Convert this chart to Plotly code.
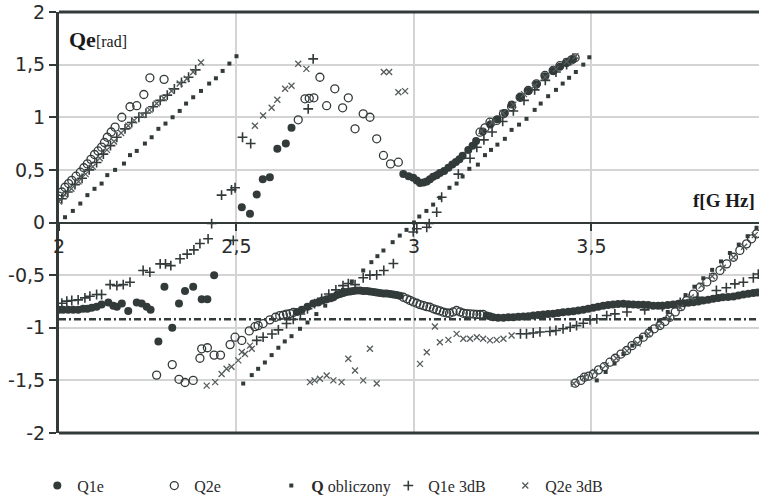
import plotly.graph_objects as go

# ---------------- data ----------------
# Q1e (filled circles)
q1e_f = [2.000, 2.012, 2.026, 2.040, 2.054, 2.068, 2.080, 2.092, 2.106, 2.120, 2.139, 2.153, 2.163, 2.177,
         2.195, 2.219, 2.233, 2.247, 2.258, 2.280, 2.297, 2.319, 2.338, 2.355, 2.378, 2.402, 2.418, 2.437,
         2.515, 2.538, 2.557, 2.574, 2.594, 2.615, 2.639, 2.655,
         2.670, 2.684, 2.700, 2.716, 2.730, 2.742, 2.754, 2.765, 2.773, 2.783, 2.792, 2.801, 2.810, 2.820,
         2.829, 2.838, 2.848, 2.857, 2.867, 2.876, 2.886, 2.895, 2.904, 2.914, 2.923, 2.933, 2.942, 2.951, 2.960,
         2.970, 2.985, 2.998, 3.008, 3.017, 3.027, 3.036, 3.045, 3.054, 3.064, 3.073, 3.085, 3.097, 3.108,
         3.118, 3.128, 3.137, 3.153, 3.165, 3.175, 3.194, 3.215, 3.235, 3.256, 3.275, 3.300, 3.322, 3.345,
         3.369, 3.392, 3.411, 3.430, 3.448,
         3.205, 3.214, 3.223, 3.237, 3.252, 3.266, 3.280, 3.294, 3.308, 3.322, 3.336, 3.350, 3.364, 3.378,
         3.392, 3.406, 3.420, 3.435, 3.449, 3.463, 3.477, 3.491, 3.505, 3.519, 3.533, 3.547, 3.561, 3.575,
         3.590, 3.604, 3.618, 3.632, 3.646, 3.660, 3.674, 3.688, 3.700, 3.715, 3.730, 3.745, 3.759, 3.773,
         3.787, 3.801, 3.815, 3.829, 3.843, 3.857, 3.870, 3.885, 3.900, 3.914, 3.928, 3.942, 3.956, 3.968]
q1e_q = [-0.83, -0.83, -0.83, -0.83, -0.83, -0.82, -0.82, -0.81, -0.80, -0.78, -0.76, -0.79, -0.80, -0.77,
         -0.84, -0.76, -0.77, -0.80, -0.83, -1.13, -0.61, -1.00, -0.77, -0.65, -0.61, -0.73, -0.73, -0.50,
         0.145, 0.083, 0.266, 0.41, 0.43, 0.70, 0.75, 0.90,
         -0.85, -0.83, -0.80, -0.77, -0.76, -0.74, -0.73, -0.72, -0.71, -0.69, -0.68, -0.67, -0.66, -0.655,
         -0.65, -0.645, -0.645, -0.65, -0.65, -0.655, -0.66, -0.665, -0.67, -0.675, -0.675, -0.68, -0.685, -0.69, -0.695,
         0.46, 0.44, 0.425, 0.40, 0.375, 0.38, 0.39, 0.41, 0.435, 0.45, 0.47, 0.49, 0.52, 0.55,
         0.575, 0.60, 0.635, 0.69, 0.73, 0.775, 0.865, 0.93, 0.98, 1.04, 1.12, 1.19, 1.25, 1.31,
         1.39, 1.44, 1.48, 1.52, 1.55,
         -0.884, -0.89, -0.90, -0.905, -0.906, -0.90, -0.90, -0.895, -0.893, -0.89, -0.884, -0.88, -0.874, -0.87,
         -0.868, -0.86, -0.852, -0.848, -0.843, -0.835, -0.83, -0.82, -0.81, -0.80, -0.79, -0.785, -0.78, -0.775,
         -0.773, -0.776, -0.78, -0.781, -0.782, -0.785, -0.79, -0.79, -0.79, -0.785, -0.78, -0.773, -0.767, -0.762,
         -0.757, -0.75, -0.741, -0.733, -0.725, -0.718, -0.71, -0.707, -0.703, -0.693, -0.684, -0.677, -0.671, -0.665]

# Q2e (open circles)
q2e_f = [2.000, 2.008, 2.017, 2.027, 2.036, 2.048, 2.060, 2.070, 2.080, 2.090, 2.100, 2.110, 2.120, 2.128,
         2.136, 2.147, 2.158, 2.177, 2.200, 2.219, 2.239, 2.256, 2.296,
         2.275, 2.319, 2.338, 2.355, 2.378, 2.397, 2.402, 2.418, 2.437, 2.455, 2.482, 2.496, 2.515, 2.536,
         2.552, 2.561, 2.575, 2.594, 2.610, 2.622, 2.632, 2.641, 2.651, 2.660,
         2.674, 2.693, 2.705, 2.718, 2.735, 2.754, 2.777, 2.799, 2.815, 2.834, 2.857, 2.876, 2.895, 2.914,
         2.934, 2.956,
         2.970, 2.980, 2.989, 2.998, 3.008, 3.017, 3.027, 3.036, 3.045, 3.055, 3.064, 3.073, 3.083, 3.092,
         3.100, 3.110, 3.120, 3.130, 3.139, 3.148, 3.158, 3.168, 3.177, 3.186, 3.195,
         3.186, 3.200, 3.214, 3.233, 3.252, 3.275, 3.299, 3.322, 3.345, 3.369, 3.392, 3.411, 3.430, 3.444, 3.454,
         3.454, 3.470, 3.480, 3.492, 3.505, 3.520, 3.536, 3.552, 3.567, 3.583, 3.599, 3.614, 3.630, 3.646,
         3.662, 3.677, 3.693, 3.707, 3.721, 3.736, 3.752, 3.768, 3.787, 3.806, 3.825, 3.843, 3.862, 3.881,
         3.900, 3.918, 3.937, 3.951, 3.965]
q2e_q = [0.25, 0.29, 0.335, 0.37, 0.40, 0.44, 0.478, 0.52, 0.557, 0.60, 0.646, 0.68, 0.716, 0.76,
         0.81, 0.86, 0.906, 1.00, 1.10, 1.11, 1.216, 1.375, 1.36,
         -1.45, -1.35, -1.49, -1.52, -1.50, -1.29, -1.20, -1.19, -1.26, -1.26, -1.16, -1.09, -1.12, -1.03,
         -0.99, -0.98, -0.96, -0.925, -0.90, -0.885, -0.88, -0.87, -0.865, -0.855,
         0.976, 1.175, 1.18, 1.185, 1.38, 1.11, 1.27, 1.09, 1.185, 0.89, 1.033, 1.00, 0.795, 0.637,
         0.557, 0.573,
         -0.71, -0.725, -0.74, -0.755, -0.767, -0.78, -0.79, -0.80, -0.805, -0.82, -0.83, -0.84, -0.852, -0.86,
         -0.862, -0.85, -0.836, -0.85, -0.862, -0.865, -0.868, -0.87, -0.874, -0.874, -0.874,
         0.858, 0.90, 0.953, 0.97, 1.033, 1.10, 1.19, 1.254, 1.318, 1.397, 1.444, 1.49, 1.52, 1.545, 1.565,
         -1.527, -1.50, -1.47, -1.46, -1.44, -1.40, -1.37, -1.327, -1.29, -1.25, -1.216, -1.17, -1.13, -1.09,
         -1.05, -1.01, -0.979, -0.94, -0.90, -0.85, -0.80, -0.741, -0.68, -0.615, -0.565, -0.52, -0.455, -0.393,
         -0.33, -0.265, -0.203, -0.155, -0.107]

# Q obliczony (calculated phase, small squares)
qobl_f = [2.017, 2.039, 2.060, 2.080, 2.100, 2.120, 2.136, 2.158, 2.183, 2.200, 2.219, 2.242, 2.261, 2.280,
          2.300, 2.320, 2.340, 2.358, 2.378, 2.400, 2.423, 2.442, 2.461, 2.480, 2.500,
          2.519, 2.543, 2.561, 2.580, 2.599, 2.618, 2.636, 2.655, 2.679, 2.700, 2.725, 2.750, 2.775, 2.800,
          2.825, 2.857, 2.880, 2.897, 2.914, 2.940, 2.960, 2.979, 3.000,
          3.015, 3.035, 3.054, 3.073, 3.100, 3.120, 3.137, 3.156, 3.180, 3.200, 3.217, 3.235, 3.256, 3.275,
          3.296, 3.317, 3.340, 3.357, 3.378, 3.400, 3.419, 3.437, 3.456, 3.477, 3.494,
          3.515, 3.540, 3.565, 3.590, 3.615, 3.640, 3.665, 3.690, 3.715, 3.740, 3.765, 3.790, 3.815, 3.840,
          3.865, 3.890, 3.915, 3.940, 3.965]
qobl_q = [0.05, 0.11, 0.18, 0.26, 0.32, 0.37, 0.45, 0.50, 0.56, 0.64, 0.68, 0.75, 0.81, 0.89,
          0.94, 1.00, 1.06, 1.13, 1.19, 1.25, 1.32, 1.37, 1.44, 1.51, 1.58,
          -1.53, -1.45, -1.39, -1.33, -1.26, -1.19, -1.13, -1.08, -1.01, -0.95, -0.87, -0.79, -0.71, -0.64,
          -0.56, -0.456, -0.377, -0.32, -0.266, -0.187, -0.124, -0.07, 0.00,
          0.057, 0.11, 0.17, 0.235, 0.33, 0.37, 0.437, 0.51, 0.55, 0.64, 0.69, 0.74, 0.795, 0.88,
          0.93, 0.985, 1.07, 1.13, 1.20, 1.26, 1.32, 1.375, 1.43, 1.50, 1.57,
          -1.50, -1.42, -1.34, -1.25, -1.17, -1.09, -1.01, -0.93, -0.85, -0.77, -0.69, -0.61, -0.53, -0.45,
          -0.37, -0.29, -0.21, -0.13, -0.05]

# Q1e 3dB (plus signs)
q1e3_f = [2.008, 2.025, 2.045, 2.065, 2.085, 2.106, 2.125, 2.145, 2.163, 2.186, 2.205, 2.225, 2.245, 2.265,
          2.285, 2.305, 2.325, 2.345, 2.365, 2.385,
          2.458, 2.486, 2.496, 2.517, 2.540, 2.702, 2.716,
          2.008, 2.022, 2.036, 2.054, 2.073, 2.087, 2.106, 2.120, 2.144, 2.163, 2.181, 2.200, 2.237, 2.256,
          2.285, 2.300, 2.315, 2.341, 2.361, 2.380, 2.397, 2.420, 2.430, 2.491,
          2.557, 2.575, 2.600, 2.618, 2.641, 2.660, 2.680, 2.700, 2.720, 2.740, 2.760, 2.780, 2.800, 2.815,
          2.834, 2.857, 2.876, 2.895, 2.915, 2.942, 2.998, 3.008, 3.043,
          3.036, 3.064, 3.078, 3.125, 3.158, 3.177, 3.197, 3.220, 3.250, 3.280, 3.310, 3.340, 3.370, 3.400, 3.430,
          3.300, 3.317, 3.336, 3.355, 3.383, 3.400, 3.420, 3.440, 3.458, 3.477, 3.496, 3.515, 3.543, 3.566,
          3.600, 3.650, 3.700, 3.750, 3.800, 3.852, 3.880, 3.904, 3.928, 3.956, 3.970]
q1e3_q = [0.225, 0.29, 0.36, 0.42, 0.50, 0.57, 0.65, 0.73, 0.81, 0.89, 0.95, 1.00, 1.04, 1.10,
          1.16, 1.21, 1.27, 1.33, 1.38, 1.45,
          0.26, 0.31, 0.33, 0.81, 0.75, 1.08, 1.555,
          -0.767, -0.747, -0.741, -0.735, -0.716, -0.70, -0.684, -0.684, -0.59, -0.60, -0.59, -0.567, -0.456, -0.472,
          -0.393, -0.393, -0.41, -0.345, -0.30, -0.26, -0.20, -0.155, -0.01, -0.17,
          -1.12, -1.09, -1.06, -1.02, -0.96, -0.92, -0.87, -0.82, -0.77, -0.72, -0.68, -0.64, -0.60, -0.58,
          -0.59, -0.525, -0.50, -0.497, -0.456, -0.39, -0.09, -0.06, -0.01,
          -0.045, 0.098, 0.24, 0.46, 0.61, 0.715, 0.785, 0.86, 0.96, 1.06, 1.16, 1.26, 1.35, 1.43, 1.50,
          -1.057, -1.057, -1.05, -1.04, -1.035, -1.026, -1.01, -0.995, -0.98, -0.957, -0.925, -0.915, -0.884, -0.868,
          -0.85, -0.83, -0.80, -0.76, -0.71, -0.646, -0.62, -0.583, -0.567, -0.525, -0.49]

# Q2e 3dB (x signs)
q2e3_f = [2.000, 2.017, 2.035, 2.055, 2.075, 2.095, 2.115, 2.135, 2.155, 2.175, 2.195, 2.212, 2.235, 2.255,
          2.275, 2.295, 2.317, 2.340, 2.360, 2.378, 2.400,
          2.552, 2.575, 2.599, 2.615, 2.637, 2.655, 2.674, 2.697, 2.915, 2.930, 2.956, 2.975,
          2.416, 2.440, 2.458, 2.472, 2.486, 2.505, 2.515, 2.524, 2.538, 2.543,
          2.707, 2.720, 2.735, 2.754, 2.773, 2.796, 2.815, 2.834, 2.857, 2.876, 2.895, 3.017, 3.036, 3.059,
          3.073, 3.097, 3.120, 3.139, 3.158, 3.177, 3.195, 3.214, 3.233, 3.252, 3.275,
          3.190, 3.220, 3.250, 3.280, 3.310, 3.340, 3.370, 3.400, 3.430, 3.455,
          3.450, 3.480, 3.510, 3.540, 3.570, 3.600, 3.630, 3.660, 3.690, 3.720, 3.750, 3.780, 3.810, 3.840,
          3.870, 3.900, 3.930, 3.960]
q2e3_q = [0.20, 0.26, 0.32, 0.39, 0.46, 0.53, 0.61, 0.69, 0.77, 0.85, 0.92, 0.97, 1.02, 1.07,
          1.13, 1.18, 1.25, 1.32, 1.365, 1.43, 1.52,
          0.92, 1.017, 1.09, 1.166, 1.27, 1.30, 1.508, 1.46, 1.43, 1.43, 1.238, 1.248,
          -1.55, -1.517, -1.44, -1.39, -1.37, -1.31, -1.23, -1.25, -1.17, -1.20,
          -1.517, -1.50, -1.485, -1.454, -1.50, -1.517, -1.295, -1.406, -1.50, -1.20, -1.53, -1.343, -1.232, -0.988,
          -1.137, -1.115, -1.058, -1.105, -1.105, -1.09, -1.105, -1.12, -1.115, -1.105, -1.074,
          0.87, 0.95, 1.04, 1.12, 1.22, 1.30, 1.38, 1.46, 1.53, 1.58,
          -1.53, -1.47, -1.42, -1.36, -1.29, -1.22, -1.15, -1.06, -0.98, -0.90, -0.81, -0.71, -0.60, -0.51,
          -0.43, -0.33, -0.23, -0.12]

# horizontal reference level (dash-dot line)
ref_f = [2.0, 3.972]
ref_q = [-0.92, -0.92]

y_ticks = [-2, -1.5, -1, -0.5, 0, 0.5, 1, 1.5, 2]
y_ticktext = ["-2", "-1,5", "-1", "-0,5", "0", "0,5", "1", "1,5", "2"]
x_ticks = [2, 2.5, 3, 3.5]
x_ticktext = ["2", "2,5", "3", "3,5"]

# ---------------- figure ----------------
DARK = "#333a3a"
fig = go.Figure()

fig.add_trace(go.Scatter(x=ref_f, y=ref_q, mode="lines", showlegend=False, hoverinfo="skip",
                         line=dict(color=DARK, width=2.5, dash="7px,3px,2px,3px")))
fig.add_trace(go.Scatter(x=q1e_f, y=q1e_q, mode="markers", name="Q1e",
                         marker=dict(symbol="circle", size=8, color=DARK)))
fig.add_trace(go.Scatter(x=q2e_f, y=q2e_q, mode="markers", name="Q2e",
                         marker=dict(symbol="circle-open", size=8, color=DARK, line=dict(width=1.3))))
fig.add_trace(go.Scatter(x=qobl_f, y=qobl_q, mode="markers", name="<b>Q</b> obliczony",
                         marker=dict(symbol="square", size=4, color=DARK)))
fig.add_trace(go.Scatter(x=q1e3_f, y=q1e3_q, mode="markers", name="Q1e 3dB",
                         marker=dict(symbol="cross-thin", size=7, color=DARK,
                                     line=dict(width=1.6, color=DARK))))
fig.add_trace(go.Scatter(x=q2e3_f, y=q2e3_q, mode="markers", name="Q2e 3dB",
                         marker=dict(symbol="x-thin", size=6, color="#555c5c",
                                     line=dict(width=1.3, color="#555c5c"))))

tickfont = dict(family="DejaVu Sans", size=19, color="#2a2a2a")

fig.update_layout(
    width=759, height=499,
    margin=dict(l=59, r=0, t=12, b=66, autoexpand=False),
    paper_bgcolor="white", plot_bgcolor="white",
    showlegend=True,
    legend=dict(orientation="h", x=-0.031, xanchor="left", y=-0.125, yanchor="middle",
                font=dict(family="Liberation Serif", size=16, color="#2a2a2a"),
                entrywidth=72, entrywidthmode="pixels", itemwidth=30, tracegroupgap=0),
    xaxis=dict(range=[2, 3.972], tickvals=x_ticks, ticktext=x_ticktext,
               anchor="free", position=0.5, showline=False, zeroline=False,
               showgrid=True, gridcolor="#d4d4d4", gridwidth=1.5,
               ticks="outside", ticklen=7, tickwidth=2, tickcolor=DARK,
               tickfont=tickfont),
    yaxis=dict(range=[-2, 2], tickvals=y_ticks, ticktext=y_ticktext,
               showline=True, linecolor=DARK, linewidth=3,
               zeroline=True, zerolinecolor=DARK, zerolinewidth=2,
               showgrid=True, gridcolor="#d4d4d4", gridwidth=1.5,
               ticks="outside", ticklen=7, tickwidth=2, tickcolor=DARK,
               tickfont=tickfont),
    shapes=[
        dict(type="line", xref="paper", yref="paper", x0=0, x1=1, y0=1, y1=1,
             line=dict(color=DARK, width=3)),
        dict(type="line", xref="paper", yref="paper", x0=0, x1=1, y0=0, y1=0,
             line=dict(color=DARK, width=3)),
    ],
    annotations=[
        dict(xref="paper", yref="paper", x=0.012, y=0.935, xanchor="left", yanchor="middle",
             showarrow=False,
             text="<b>Qe</b><span style='font-size:16px'>[rad]</span>",
             font=dict(family="Liberation Serif", size=22, color="#1a1a1a")),
        dict(xref="paper", yref="paper", x=0.997, y=0.553, xanchor="right", yanchor="middle",
             showarrow=False, text="<b>f[G Hz]</b>",
             font=dict(family="Liberation Serif", size=19, color="#1a1a1a")),
    ],
)

# remove the browser's default 8 px page margin so the figure fills the window exactly
fig.write_html("out.html", config={"displayModeBar": False},
               post_script="document.body.style.margin='0px';")
